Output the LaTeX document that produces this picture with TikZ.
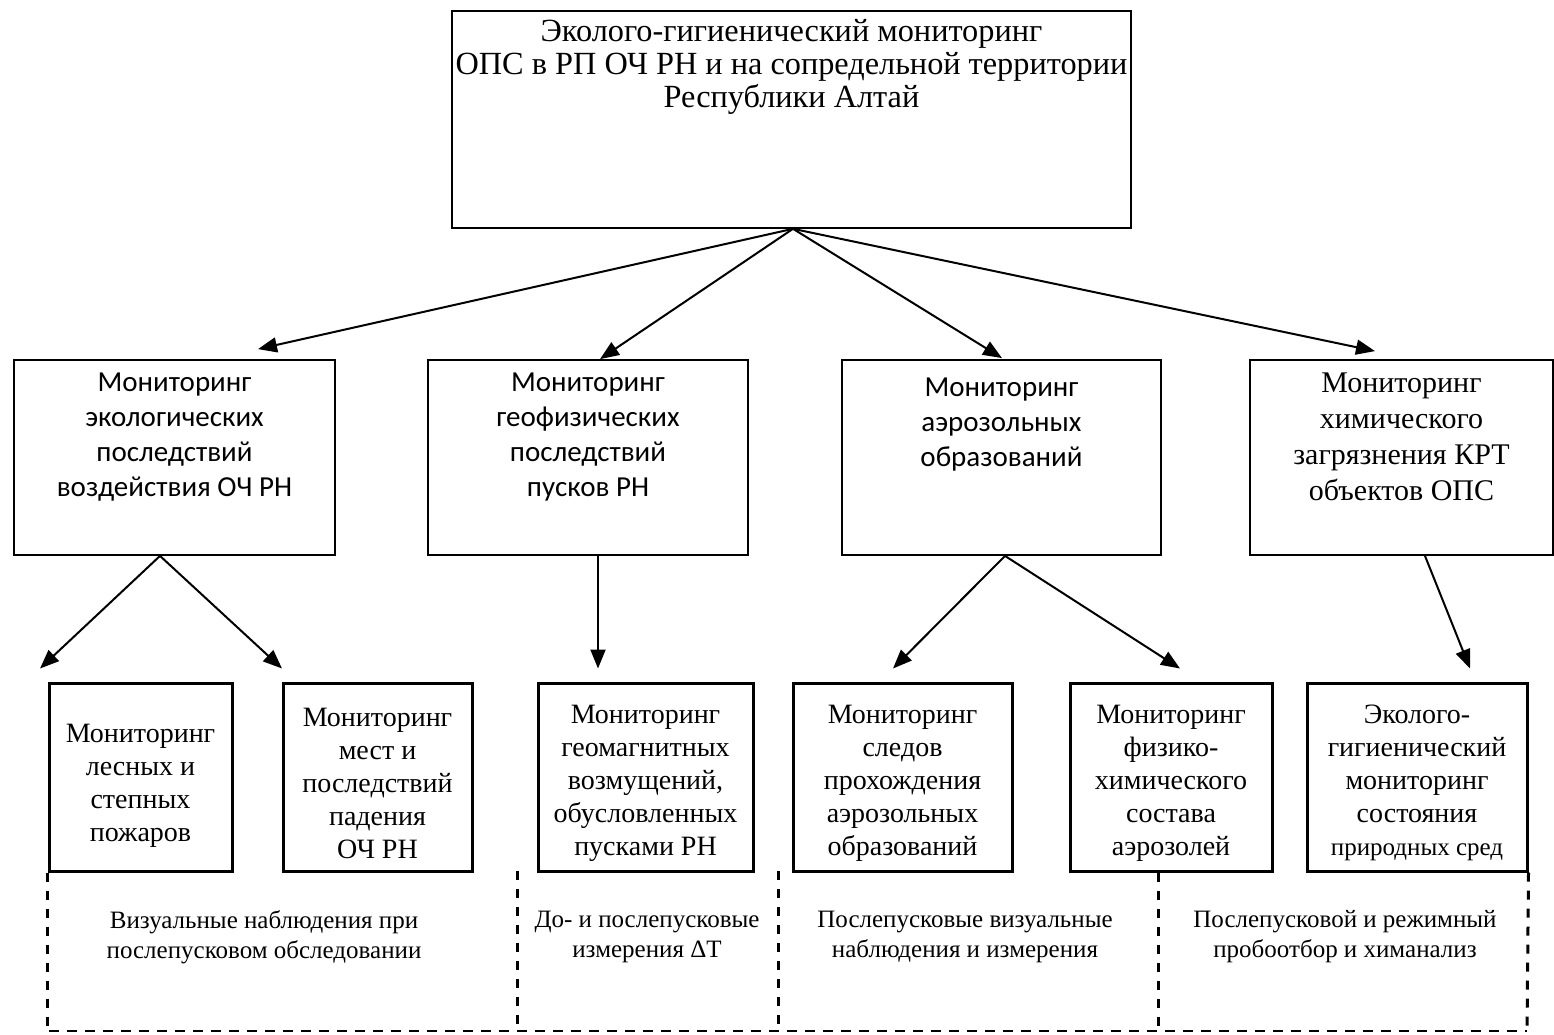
\documentclass[tikz,border=0pt]{standalone}
\usepackage{fontspec}
\setmainfont{Liberation Serif}
\newfontfamily\calibri{Carlito}
\usetikzlibrary{arrows.meta}

\tikzset{
  topbox/.style={draw, line width=1.6pt, inner sep=0pt, minimum width=679pt, minimum height=217pt},
  midbox/.style={draw, line width=1.8pt, inner sep=0pt, minimum height=195pt},
  lowbox/.style={draw, line width=3pt, inner sep=0pt, minimum height=188pt},
  toptext/.style={anchor=north, align=center, inner sep=0pt, font=\fontsize{32.3}{33}\selectfont},
  sanstext/.style={anchor=north, align=center, inner sep=0pt, font=\calibri\fontsize{29}{35}\selectfont},
  sertext/.style={anchor=north, align=center, inner sep=0pt, font=\fontsize{30}{36}\selectfont},
  lowtext/.style={align=center, inner sep=0pt, font=\fontsize{28}{33}\selectfont},
  undertext/.style={align=center, inner sep=0pt, font=\fontsize{25}{30}\selectfont},
  arr/.style={line width=2pt, -{Triangle[length=19pt,width=15pt]}},
  vdash/.style={line width=3pt, dash pattern=on 9pt off 9pt},
  hdash/.style={line width=1.6pt, dash pattern=on 10pt off 8pt}
}

\begin{document}
\begin{tikzpicture}[x=1pt,y=1pt,yscale=-1]
\useasboundingbox (0,0) rectangle (1554,1034);

% main box
\node[topbox] (top) at (791.5,119.5) {};
\node[toptext] (ttop) at ([yshift=9pt]top.north) {Эколого-гигиенический мониторинг\\ОПС в РП ОЧ РН и на сопредельной территории\\Республики Алтай};

% second level
\node[midbox, minimum width=321pt] (eco) at (174.5,457.5) {};
\node[midbox, minimum width=320pt] (geo) at (588,457.5) {};
\node[midbox, minimum width=319pt] (aer) at (1001.5,457.5) {};
\node[midbox, minimum width=303pt] (chem) at (1401.5,457.5) {};
\node[sanstext] (teco) at ([yshift=14pt]eco.north) {Мониторинг\\экологических\\последствий\\воздействия ОЧ РН};
\node[sanstext] (tgeo) at ([yshift=14pt]geo.north) {Мониторинг\\геофизических\\последствий\\пусков РН};
\node[sanstext] (taer) at ([yshift=19pt]aer.north) {Мониторинг\\аэрозольных\\образований};
\node[sertext] (tchem) at ([yshift=14pt]chem.north) {Мониторинг\\химического\\загрязнения КРТ\\объектов ОПС};

% third level
\node[lowbox, minimum width=183pt] (fire) at (140.5,777) {};
\node[lowbox, minimum width=189pt] (fall) at (377.5,777) {};
\node[lowbox, minimum width=215pt] (magn) at (645.5,777) {};
\node[lowbox, minimum width=219pt] (trace) at (902.5,777) {};
\node[lowbox, minimum width=202pt] (phys) at (1171,777) {};
\node[lowbox, minimum width=220pt] (envr) at (1417,777) {};
\node[lowtext] (tfire) at ([yshift=9pt]fire.center) {Мониторинг\\лесных и\\степных\\пожаров};
\node[lowtext] (tfall) at ([yshift=6pt]fall.center) {Мониторинг\\мест и\\последствий\\падения\\ОЧ РН};
\node[lowtext] (tmagn) at ([yshift=6pt]magn.center) {Мониторинг\\геомагнитных\\возмущений,\\обусловленных\\пусками РН};
\node[lowtext] (ttrace) at ([yshift=6pt]trace.center) {Мониторинг\\следов\\прохождения\\аэрозольных\\образований};
\node[lowtext] (tphys) at ([yshift=6pt]phys.center) {Мониторинг\\физико-\\химического\\состава\\аэрозолей};
\node[lowtext] (tenvr) at ([yshift=6pt]envr.center) {Эколого-\\гигиенический\\мониторинг\\состояния\\{\fontsize{25}{33}\selectfont природных сред}};

% arrows
\draw[arr] ([xshift=1.5pt]top.south) -- ([xshift=83.5pt,yshift=-10pt]eco.north);
\draw[arr] ([xshift=1.5pt]top.south) -- ([xshift=12pt]geo.north);
\draw[arr] ([xshift=1.5pt]top.south) -- ([xshift=0.5pt,yshift=-1pt]aer.north);
\draw[arr] ([xshift=1.5pt]top.south) -- ([xshift=-26.5pt,yshift=-8pt]chem.north);

\draw[arr] ([xshift=-14.5pt]eco.south) -- ([xshift=-100.5pt,yshift=-13pt]fire.north);
\draw[arr] ([xshift=-14.5pt]eco.south) -- ([xshift=-95.5pt,yshift=-13pt]fall.north);
\draw[arr] ([xshift=10pt]geo.south) -- ([xshift=-47.5pt,yshift=-13pt]magn.north);
\draw[arr] ([xshift=3.5pt]aer.south) -- ([xshift=-9.5pt,yshift=-13pt]trace.north);
\draw[arr] ([xshift=3.5pt]aer.south) -- ([xshift=9pt,yshift=-13pt]phys.north);
\draw[arr] ([xshift=23.5pt]chem.south) -- ([xshift=53pt,yshift=-13pt]envr.north);

% dashed frame
\coordinate (bl) at (49,1031);
\coordinate (br) at (1527,1031);
\coordinate (s1) at (517,871);
\coordinate (s2) at (778,871);
\draw[vdash] (fire.south west) -- (fire.south west |- bl);
\draw[vdash] (s1) -- (s1 |- bl);
\draw[vdash] (s2) -- (s2 |- bl);
\draw[vdash] ([xshift=-13pt]phys.south) -- ([xshift=-13pt]phys.south |- bl);
\draw[vdash] (envr.south east) -- (br);
\draw[hdash] (bl) -- (br);

\node[undertext] (v1) at (264,937) {Визуальные наблюдения при\\послепусковом обследовании};
\node[undertext] (v2) at (647,937) {До- и послепусковые\\измерения ΔT};
\node[undertext] (v3) at (965,937) {Послепусковые визуальные\\наблюдения и измерения};
\node[undertext] (v4) at (1345,937) {Послепусковой и режимный\\пробоотбор и химанализ};
\end{tikzpicture}
\end{document}
